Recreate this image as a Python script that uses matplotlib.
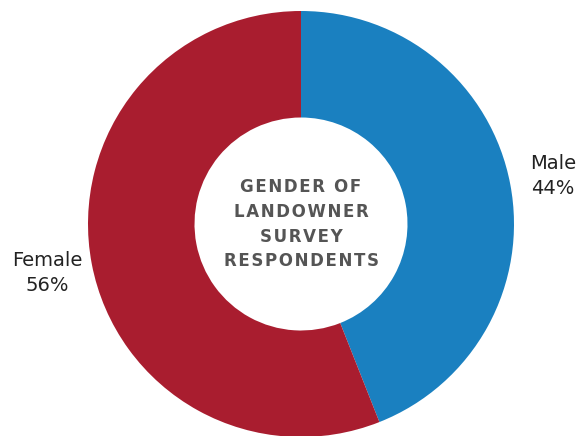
import matplotlib
matplotlib.use('Agg')
import matplotlib.pyplot as plt

# 数据
labels = ['Male', 'Female']
shares = [44, 56]
colors = ['#1a80c0', '#a91d2f']
center_lines = ['GENDER OF', 'LANDOWNER', 'SURVEY', 'RESPONDENTS']

fig = plt.figure(figsize=(5.82, 4.36), dpi=100)
ax = fig.add_axes([0, 0, 1, 1])

# 从12点方向开始顺时针
ax.pie(shares, colors=colors, startangle=90, counterclock=False,
       radius=1.0, wedgeprops=dict(width=0.5, edgecolor='none'))

ax.set_aspect('equal')
ax.set_xlim(-301 / 213, 281 / 213)
ax.set_ylim(-212 / 213, 224 / 213)
ax.axis('off')

# 字母间距用 hair space 模拟
spaced = '\n'.join('\u200a'.join(line) for line in center_lines)
ax.text(0, 0, spaced, ha='center', va='center', fontsize=12,
        fontweight='bold', color='#555555', linespacing=1.5,
        family='DejaVu Sans')

# 外部标签
ax.text(553 / 213 - 301 / 213, (224 - 176) / 213,
        f'{labels[0]}\n{shares[0]}%', ha='center', va='center',
        fontsize=14, color='#222222', linespacing=1.45)
ax.text(47 / 213 - 301 / 213, (224 - 273) / 213,
        f'{labels[1]}\n{shares[1]}%', ha='center', va='center',
        fontsize=14, color='#222222', linespacing=1.45)

fig.savefig('out.png', dpi=100)
